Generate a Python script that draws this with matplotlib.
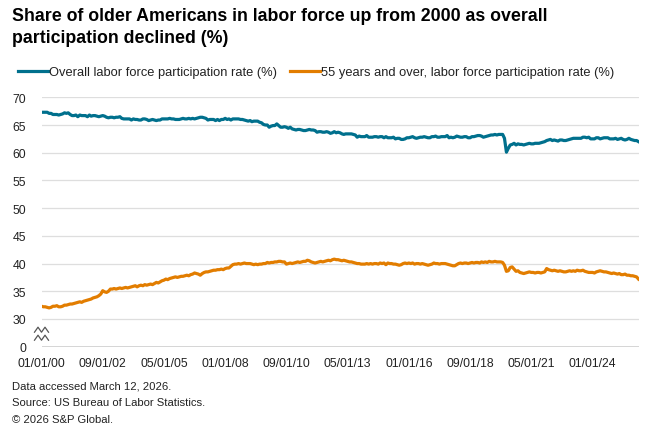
import matplotlib
matplotlib.use("Agg")
import matplotlib.pyplot as plt
import pandas as pd
import numpy as np

plt.rcParams['font.family'] = ['Liberation Sans', 'DejaVu Sans']

# ---------------- data ----------------
start_month = "2000-01-01"

overall = [
    67.3, 67.3, 67.3, 67.3, 67.1, 67.1, 66.9, 66.9, 66.9, 66.8, 66.9, 67.0,  # 2000
    67.2, 67.1, 67.2, 66.9, 66.7, 66.7, 66.8, 66.5, 66.8, 66.7, 66.7, 66.7,  # 2001
    66.5, 66.8, 66.6, 66.7, 66.7, 66.6, 66.5, 66.6, 66.7, 66.6, 66.4, 66.3,  # 2002
    66.4, 66.4, 66.3, 66.4, 66.4, 66.5, 66.2, 66.1, 66.1, 66.1, 66.1, 65.9,  # 2003
    66.1, 66.0, 66.0, 65.9, 65.9, 66.1, 66.1, 66.0, 65.8, 65.9, 66.0, 65.9,  # 2004
    65.8, 65.9, 65.9, 66.1, 66.1, 66.1, 66.1, 66.2, 66.1, 66.1, 66.0, 66.0,  # 2005
    66.0, 66.1, 66.2, 66.1, 66.1, 66.2, 66.1, 66.2, 66.1, 66.2, 66.3, 66.4,  # 2006
    66.4, 66.3, 66.2, 65.9, 66.0, 66.0, 66.0, 65.8, 66.0, 65.8, 66.0, 66.0,  # 2007
    66.2, 66.0, 66.1, 65.9, 66.1, 66.1, 66.1, 66.1, 66.0, 66.0, 65.9, 65.8,  # 2008
    65.7, 65.8, 65.6, 65.7, 65.7, 65.7, 65.5, 65.4, 65.1, 65.0, 65.0, 64.6,  # 2009
    64.8, 64.9, 64.9, 65.2, 64.9, 64.6, 64.6, 64.7, 64.6, 64.4, 64.6, 64.3,  # 2010
    64.2, 64.1, 64.2, 64.2, 64.1, 64.0, 64.0, 64.1, 64.2, 64.1, 64.1, 64.0,  # 2011
    63.7, 63.8, 63.8, 63.7, 63.7, 63.8, 63.7, 63.5, 63.6, 63.8, 63.6, 63.7,  # 2012
    63.6, 63.4, 63.3, 63.4, 63.4, 63.4, 63.4, 63.3, 63.2, 62.8, 63.0, 62.9,  # 2013
    62.9, 62.9, 63.1, 62.8, 62.8, 62.8, 62.9, 62.9, 62.8, 62.9, 62.9, 62.7,  # 2014
    62.9, 62.7, 62.7, 62.7, 62.8, 62.5, 62.6, 62.6, 62.4, 62.4, 62.5, 62.7,  # 2015
    62.7, 62.8, 62.9, 62.7, 62.6, 62.7, 62.8, 62.8, 62.9, 62.8, 62.7, 62.7,  # 2016
    62.9, 62.9, 63.0, 62.8, 62.8, 62.9, 62.9, 62.9, 63.1, 62.7, 62.8, 62.7,  # 2017
    62.8, 63.0, 62.9, 62.8, 62.8, 62.9, 62.9, 62.7, 62.7, 62.9, 62.9, 63.0,  # 2018
    63.1, 63.1, 63.0, 62.8, 62.9, 63.0, 63.1, 63.2, 63.2, 63.3, 63.2, 63.3,  # 2019
    63.3, 63.3, 62.6, 60.1, 60.8, 61.4, 61.5, 61.7, 61.4, 61.6, 61.5, 61.5,  # 2020
    61.4, 61.5, 61.6, 61.7, 61.6, 61.6, 61.7, 61.7, 61.7, 61.8, 61.9, 62.0,  # 2021
    62.2, 62.3, 62.4, 62.2, 62.3, 62.2, 62.1, 62.3, 62.3, 62.2, 62.2, 62.3,  # 2022
    62.4, 62.5, 62.6, 62.6, 62.6, 62.6, 62.6, 62.8, 62.8, 62.7, 62.8, 62.5,  # 2023
    62.5, 62.5, 62.7, 62.7, 62.5, 62.6, 62.7, 62.7, 62.7, 62.5, 62.5, 62.5,  # 2024
    62.6, 62.4, 62.5, 62.6, 62.4, 62.3, 62.4, 62.6, 62.4, 62.3, 62.2, 62.2,  # 2025
    62.0,                                                                    # 2026
]

age55_plus = [
    32.3, 32.2, 32.2, 32.1, 32.0, 32.1, 32.3, 32.3, 32.4, 32.2, 32.2, 32.3,  # 2000
    32.5, 32.5, 32.6, 32.7, 32.7, 32.8, 32.9, 33.0, 33.1, 33.0, 33.2, 33.3,  # 2001
    33.4, 33.5, 33.6, 33.8, 33.9, 34.0, 34.2, 34.5, 35.1, 34.9, 34.8, 35.0,  # 2002
    35.4, 35.4, 35.5, 35.4, 35.5, 35.6, 35.5, 35.6, 35.7, 35.6, 35.7, 35.8,  # 2003
    35.9, 36.0, 35.8, 36.0, 36.1, 36.0, 36.2, 36.1, 36.2, 36.3, 36.2, 36.4,  # 2004
    36.6, 36.5, 36.7, 36.9, 37.0, 37.2, 37.1, 37.3, 37.4, 37.5, 37.6, 37.5,  # 2005
    37.6, 37.7, 37.7, 37.8, 37.9, 37.8, 38.0, 38.1, 38.3, 38.2, 38.1, 37.9,  # 2006
    38.2, 38.4, 38.5, 38.5, 38.6, 38.7, 38.8, 38.8, 38.9, 38.9, 39.0, 38.9,  # 2007
    39.1, 39.2, 39.2, 39.5, 39.8, 39.9, 39.9, 40.0, 39.9, 40.0, 40.1, 40.0,  # 2008
    40.0, 40.0, 39.9, 39.8, 39.9, 39.8, 39.9, 39.9, 40.0, 40.0, 40.2, 40.1,  # 2009
    40.2, 40.2, 40.3, 40.3, 40.4, 40.4, 40.3, 40.3, 39.9, 40.0, 40.1, 40.0,  # 2010
    40.1, 40.2, 40.3, 40.2, 40.3, 40.4, 40.4, 40.6, 40.5, 40.3, 40.2, 40.1,  # 2011
    40.2, 40.3, 40.4, 40.3, 40.4, 40.5, 40.6, 40.5, 40.7, 40.8, 40.7, 40.7,  # 2012
    40.6, 40.5, 40.6, 40.5, 40.4, 40.3, 40.3, 40.2, 40.1, 40.0, 40.0, 39.9,  # 2013
    39.9, 39.9, 40.0, 39.9, 40.0, 39.9, 40.0, 40.0, 39.9, 40.1, 40.0, 40.1,  # 2014
    39.8, 40.1, 40.0, 40.0, 39.9, 39.9, 39.8, 39.7, 39.8, 40.0, 40.1, 40.0,  # 2015
    40.1, 40.0, 40.1, 39.9, 40.0, 40.0, 39.9, 40.0, 39.9, 39.8, 39.7, 39.8,  # 2016
    39.9, 40.1, 40.0, 40.0, 39.9, 40.0, 40.0, 40.0, 39.9, 39.8, 39.7, 39.6,  # 2017
    39.6, 39.8, 40.0, 40.1, 40.0, 40.1, 40.1, 40.0, 40.1, 40.2, 40.1, 40.2,  # 2018
    40.2, 40.1, 40.3, 40.2, 40.3, 40.2, 40.4, 40.3, 40.3, 40.4, 40.3, 40.3,  # 2019
    40.3, 40.2, 39.7, 38.6, 38.7, 39.3, 39.4, 39.0, 38.6, 38.7, 38.4, 38.3,  # 2020
    38.2, 38.3, 38.4, 38.5, 38.4, 38.4, 38.3, 38.4, 38.4, 38.3, 38.4, 38.5,  # 2021
    39.1, 38.9, 38.8, 38.7, 38.8, 38.7, 38.6, 38.7, 38.6, 38.5, 38.5, 38.6,  # 2022
    38.7, 38.6, 38.7, 38.6, 38.8, 38.7, 38.7, 38.8, 38.6, 38.5, 38.4, 38.4,  # 2023
    38.4, 38.3, 38.5, 38.6, 38.7, 38.6, 38.5, 38.5, 38.4, 38.3, 38.2, 38.3,  # 2024
    38.2, 38.1, 38.2, 38.0, 38.0, 38.1, 37.9, 37.9, 37.8, 37.8, 37.7, 37.6,  # 2025
    37.2,                                                                    # 2026
]

series_names = ["Overall labor force participation rate (%)",
                "55 years and over, labor force participation rate (%)"]
x_tick_dates = ["2000-01-01", "2002-09-01", "2005-05-01", "2008-01-01", "2010-09-01",
                "2013-05-01", "2016-01-01", "2018-09-01", "2021-05-01", "2024-01-01"]
x_tick_labels = ["01/01/00", "09/01/02", "05/01/05", "01/01/08", "09/01/10",
                 "05/01/13", "01/01/16", "09/01/18", "05/01/21", "01/01/24"]
y_ticks = [25, 30, 35, 40, 45, 50, 55, 60, 65, 70]
y_tick_labels = ["0", "30", "35", "40", "45", "50", "55", "60", "65", "70"]

title = "Share of older Americans in labor force up from 2000 as overall\nparticipation declined (%)"
footer = ["Data accessed March 12, 2026.",
          "Source: US Bureau of Labor Statistics.",
          "\u00a9 2026 S&P Global."]

dates = pd.date_range(start_month, periods=len(overall), freq="MS")

# ---------------- figure ----------------
TEAL = "#00708D"
ORANGE = "#E27D00"

fig = plt.figure(figsize=(6.6, 4.35), dpi=100)
ax = fig.add_axes([41.5 / 660, 1 - 347.7 / 435, (638.5 - 41.5) / 660, (347.7 - 98.3) / 435])

for yv in y_ticks[1:]:
    ax.axhline(yv, color="#dedede", lw=0.9, zorder=1)
ax.axhline(y_ticks[0], color="#c9c9c9", lw=1.8, zorder=1)

l1, = ax.plot(dates, overall, color=TEAL, lw=2.3, solid_joinstyle="round", zorder=3,
              label=series_names[0])
l2, = ax.plot(dates, age55_plus, color=ORANGE, lw=2.3, solid_joinstyle="round", zorder=3,
              label=series_names[1])

ax.set_xlim(dates[0], dates[-1])
ax.set_ylim(25, 70)
for s in ax.spines.values():
    s.set_visible(False)

ax.set_yticks(y_ticks)
ax.set_yticklabels(y_tick_labels)
ax.set_xticks(pd.to_datetime(x_tick_dates))
ax.set_xticklabels(x_tick_labels)
ax.tick_params(axis="both", length=0, labelsize=8.8, labelcolor="#222222")
ax.tick_params(axis="y", pad=11)
ax.tick_params(axis="x", pad=7.5)

# axis break symbol
for dy in (0.0, 8.0):
    xs = np.array([-7, -3.5, 0, 3.5, 7]) / 597.0
    ys = (np.array([0, 5, 0, 5, 0]) - dy + 14.5) / 249.4
    ax.plot(xs, ys, transform=ax.transAxes, color="#555555", lw=0.9, clip_on=False, zorder=4)

fig.text(12 / 660, 1 - 8 / 435, title, ha="left", va="top", fontsize=12.75,
         fontweight="bold", color="#000000", linespacing=1.38)

leg = fig.legend(handles=[l1, l2], loc="center left", bbox_to_anchor=(18 / 660, 1 - 73 / 435),
                 ncol=2, frameon=False, fontsize=9.3, handlelength=2.3, handletextpad=0.12,
                 columnspacing=1.0, borderpad=0, borderaxespad=0)
for t in leg.get_texts():
    t.set_color("#222222")

for i, line in enumerate(footer):
    fig.text(12 / 660, 1 - (387 + i * 16.5) / 435, line, ha="left", va="center",
             fontsize=8.1, color="#222222")

fig.savefig("out.png", dpi=100)
